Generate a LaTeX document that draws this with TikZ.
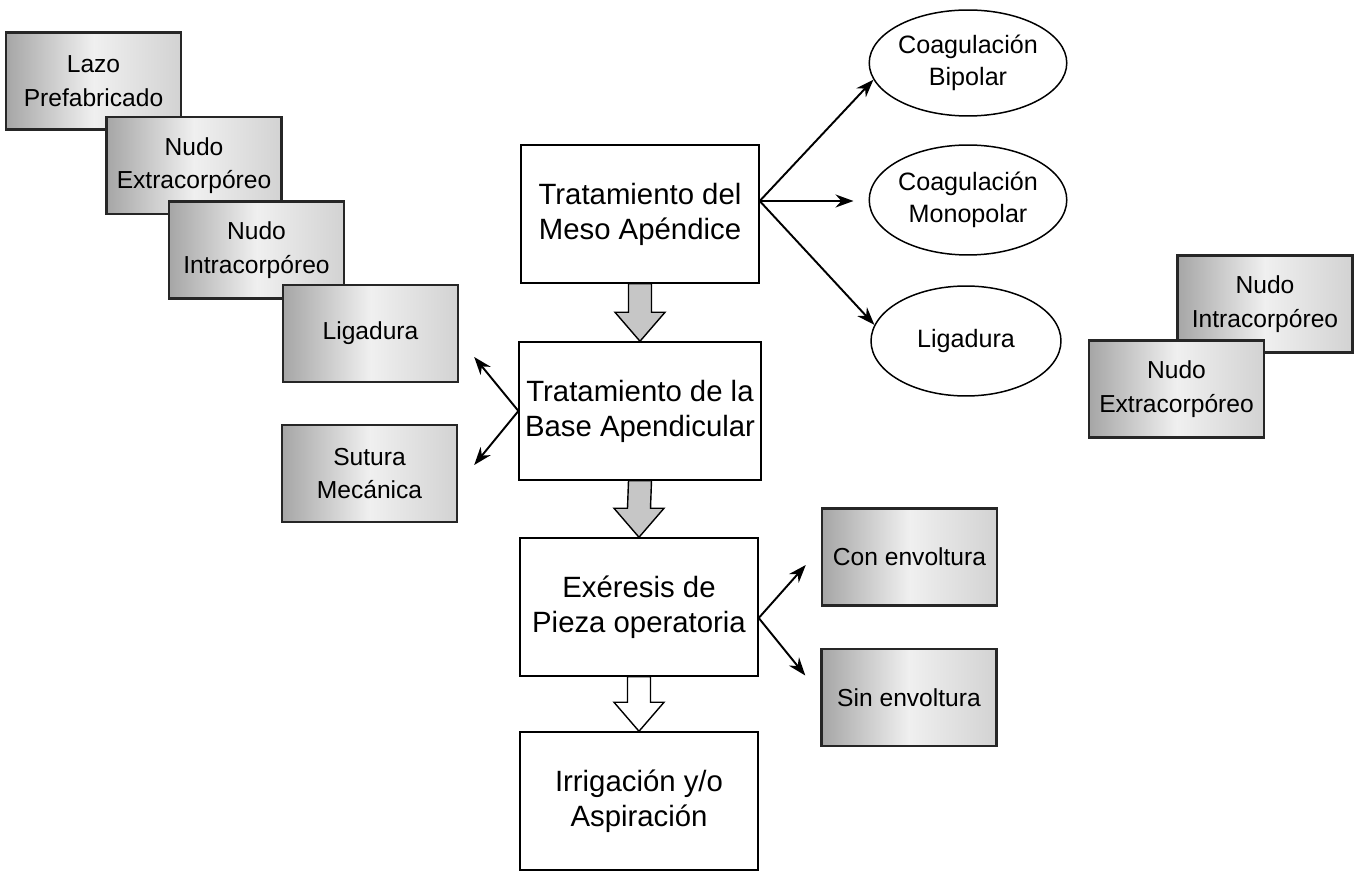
\documentclass[tikz,border=0pt]{standalone}
\usepackage{fontspec}
\setmainfont{Liberation Sans}
\usetikzlibrary{arrows.meta,positioning,shapes.geometric,calc}

\begin{document}
\begin{tikzpicture}[x=0.02cm,y=-0.02cm]
\tikzset{
  pasonode/.style={rectangle,draw=black,line width=0.85pt,fill=white,minimum width=4.76cm,minimum height=2.76cm,align=center,font=\fontsize{16.7}{19.9}\selectfont},
  opcionnode/.style={ellipse,draw=black,line width=0.85pt,minimum width=3.8cm,minimum height=2.2cm,inner sep=0pt,align=center,font=\fontsize{14.3}{18.2}\selectfont},
  tecnicanode/.style={rectangle,draw=black!85,line width=1.4pt,left color=gray!70,right color=gray!35,middle color=gray!12,minimum width=3.5cm,minimum height=1.94cm,align=center,font=\fontsize{14}{19}\selectfont},
  conector/.style={draw=black,line width=1.1pt,line cap=round,-{Stealth[length=3.6mm,width=2.6mm]}},
  bloque/.style={draw=black,line width=0.8pt,line join=miter}
}
\useasboundingbox (0,0) rectangle (1360,871);
\node[pasonode] (n_meso) at (640,214) {Tratamiento del\\Meso Apéndice};
\node[pasonode] (n_base) at (640,411) {Tratamiento de la\\Base Apendicular};
\node[pasonode] (n_exer) at (639,607) {Exéresis de\\Pieza operatoria};
\node[pasonode] (n_irri) at (639,801) {Irrigación y/o\\Aspiración};
\node[opcionnode,minimum height=2.12cm] (n_bipo) at (968,63) {Coagulación\\Bipolar};
\node[opcionnode] (n_mono) at (968,200) {Coagulación\\Monopolar};
\node[opcionnode] (n_ligE) at (966,341) {Ligadura};
\node[tecnicanode] (n_lazo) at (93.5,81) {Lazo\\Prefabricado};
\node[tecnicanode] (n_extraA) at (194,165.5) {Nudo\\Extracorpóreo};
\node[tecnicanode] (n_intraA) at (256.5,250) {Nudo\\Intracorpóreo};
\node[tecnicanode] (n_ligT) at (370.5,333.5) {Ligadura};
\node[tecnicanode] (n_sutu) at (369.5,473.5) {Sutura\\Mecánica};
\node[tecnicanode] (n_intraB) at (1265,304) {Nudo\\Intracorpóreo};
\node[tecnicanode] (n_extraB) at (1176.5,389) {Nudo\\Extracorpóreo};
\node[tecnicanode] (n_con) at (909.5,557) {Con envoltura};
\node[tecnicanode] (n_sin) at (909,697.5) {Sin envoltura};
\coordinate (n_mesoOut) at ($(n_meso.east)+(0,-13)$);
\coordinate (n_exerOut) at ($(n_exer.east)+(0,11)$);
\foreach \a/\b/\c in {n_meso/n_base/gray!45,n_base/n_exer/gray!45,n_exer/n_irri/white}
  \draw[bloque,fill=\c] ($(\a.south)+(-11.5,0)$) -- ($(\b.north)+(-11.5,-29)$)
    -- ($(\b.north)+(-25,-29)$) -- (\b.north) -- ($(\b.north)+(25,-29)$)
    -- ($(\b.north)+(11.5,-29)$) -- ($(\a.south)+(11.5,0)$) -- cycle;
\draw[conector] (n_mesoOut) -- (n_bipo.190);
\draw[conector,shorten >=0.3cm] (n_mesoOut) -- (n_mesoOut -| n_mono.west);
\draw[conector] (n_mesoOut) -- (n_ligE.170);
\draw[conector] (n_base.west) -- ($(n_ligT.east)+(15,23.5)$);
\draw[conector] (n_base.west) -- ($(n_sutu.east)+(16,-8.5)$);
\draw[conector] (n_exerOut) -- ($(n_con.west)+(-15,8)$);
\draw[conector] (n_exerOut) -- ($(n_sin.west)+(-15,-22)$);
\end{tikzpicture}
\end{document}
